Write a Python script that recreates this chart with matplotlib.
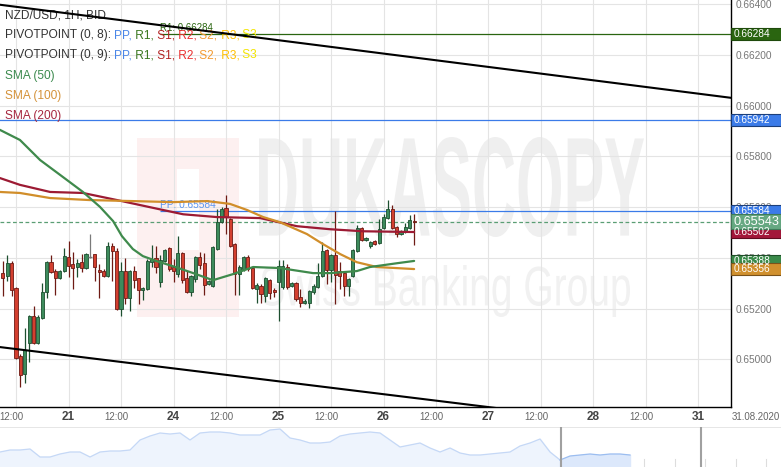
import numpy as np
import matplotlib
matplotlib.use("Agg")
import matplotlib.pyplot as plt
import matplotlib.transforms as mtransforms
from matplotlib.patches import Rectangle, PathPatch
from matplotlib.textpath import TextPath
from matplotlib.font_manager import FontProperties

plt.rcParams['font.family'] = ['Liberation Sans', 'DejaVu Sans']

W, H = 781, 467

# ----------------------------
# data (NZD/USD 1H bid), hour 0 = 21 Aug 00:00, weekend skipped
# ----------------------------
candle_hour = list(range(-15, 80))
opens = [.65340, .65328, .65379, .65281, .65013, .64942, .65064, .65170, .65064, .65162,
         .65265, .65383, .65348, .65320, .65348, .65403, .65375, .65364, .65383, .65360,
         .65403, .65415, .65352, .65348, .65328, .65446, .65427, .65198, .65348, .65241,
         .65348, .65320, .65273, .65277, .65383, .65399, .65304, .65387, .65438, .65364,
         .65336, .65419, .65320, .65265, .65316, .65403, .65379, .65296, .65289, .65435,
         .65541, .65596, .65553, .65454, .65336, .65356, .65403, .65360, .65277, .65289,
         .65249, .65312, .65273, .65304, .65285, .65364, .65289, .65300, .65245, .65222,
         .65222, .65265, .65285, .65328, .65431, .65352, .65411, .65348, .65340, .65289,
         .65328, .65427, .65517, .65470, .65446, .65466, .65458, .65517, .65557, .65592,
         .65521, .65494, .65501, .65517, .65545]
highs = [.65387, .65411, .65387, .65285, .65021, .65123, .65174, .65210, .65174, .65300,
         .65387, .65411, .65356, .65352, .65438, .65466, .65423, .65395, .65415, .65419,
         .65494, .65415, .65375, .65356, .65462, .65458, .65438, .65383, .65399, .65352,
         .65367, .65320, .65285, .65395, .65450, .65446, .65411, .65435, .65442, .65395,
         .65486, .65423, .65348, .65332, .65407, .65423, .65419, .65312, .65446, .65592,
         .65600, .65647, .65557, .65458, .65371, .65407, .65411, .65364, .65300, .65296,
         .65324, .65316, .65281, .65391, .65391, .65375, .65304, .65304, .65277, .65237,
         .65273, .65296, .65379, .65462, .65435, .65415, .65584, .65383, .65348, .65320,
         .65435, .65529, .65521, .65482, .65466, .65470, .65553, .65572, .65628, .65608,
         .65525, .65509, .65537, .65568, .65572]
lows = [.65249, .65308, .65249, .65001, .64891, .64906, .64989, .65060, .65060, .65159,
        .65241, .65340, .65253, .65316, .65344, .65324, .65277, .65324, .65344, .65356,
        .65399, .65308, .65241, .65324, .65324, .65308, .65194, .65170, .65218, .65190,
        .65281, .65218, .65233, .65273, .65364, .65340, .65285, .65383, .65348, .65304,
        .65324, .65300, .65261, .65249, .65304, .65356, .65253, .65293, .65285, .65431,
        .65537, .65494, .65442, .65253, .65253, .65348, .65348, .65277, .65222, .65222,
        .65225, .65237, .65245, .65151, .65277, .65277, .65285, .65229, .65206, .65218,
        .65202, .65257, .65281, .65324, .65296, .65304, .65218, .65277, .65249, .65249,
        .65324, .65423, .65466, .65466, .65438, .65450, .65454, .65513, .65553, .65513,
        .65482, .65490, .65498, .65513, .65450]
closes = [.65320, .65379, .65273, .65005, .64938, .65036, .65170, .65064, .65166, .65265,
          .65383, .65344, .65320, .65348, .65407, .65367, .65360, .65379, .65360, .65415,
          .65403, .65364, .65344, .65328, .65446, .65427, .65198, .65348, .65241, .65348,
          .65312, .65273, .65281, .65387, .65395, .65364, .65391, .65431, .65356, .65348,
          .65419, .65312, .65265, .65328, .65403, .65371, .65293, .65308, .65442, .65541,
          .65592, .65561, .65446, .65336, .65364, .65403, .65356, .65281, .65293, .65257,
          .65320, .65261, .65265, .65367, .65367, .65285, .65300, .65237, .65222, .65229,
          .65269, .65289, .65328, .65427, .65352, .65411, .65332, .65328, .65289, .65316,
          .65431, .65517, .65470, .65478, .65462, .65454, .65513, .65561, .65592, .65517,
          .65494, .65505, .65521, .65549, .65543]

sma50_h = [-15.7, -11.1, -6.5, -1.9, 3.3, 7.2, 10.2, 12.2, 14.7, 17.0, 20.2, 23.9,
           28.5, 33.0, 37.6, 42.2, 48.3, 55.9, 59.8, 65.9, 68.9, 75.1, 79]
sma50_p = [.65905, .65865, .65786, .65727, .65660, .65601, .65545, .65486, .65435, .65407,
           .65387, .65367, .65340, .65312, .65336, .65364, .65360, .65340, .65340, .65348,
           .65364, .65379, .65388]
sma100_h = [-15.7, -11.1, -4.2, 4.9, 14.7, 23.9, 31.7, 36.9, 40.8, 44.5, 48.3, 54.5,
            58.2, 62.1, 65.9, 70.5, 79]
sma100_p = [.65660, .65656, .65636, .65628, .65624, .65620, .65624, .65613, .65589, .65561,
            .65541, .65494, .65454, .65415, .65383, .65364, .65356]
sma200_h = [-15.7, -11.1, -4.2, 3.3, 11.1, 18.6, 26.2, 33.9, 43.8, 52.2, 59.8, 67.3, 79]
sma200_p = [.65715, .65688, .65660, .65656, .65628, .65600, .65572, .65561, .65557, .65525,
            .65513, .65505, .65502]

# channel lines (hour, price) end points
chan_top_h, chan_top_p = [-16, 152], [0.66399, 0.66030]
chan_bot_h, chan_bot_p = [-16, 152], [0.65049, 0.64693]

pivot_start = 21
r1_level = 0.66284
pp_level = 0.65584
prev_level = 0.65942
last_price = 0.65543
sma_last = {"sma200": 0.65502, "sma50": 0.65388, "sma100": 0.65356}

price_ticks = [0.650, 0.652, 0.654, 0.656, 0.658, 0.660, 0.662, 0.664]
grid_hours = [-12, 0, 12, 24, 36, 48, 60, 72, 84, 96, 108, 120, 132, 144]
grid_labels = ["12:00", "21", "12:00", "24", "12:00", "25", "12:00", "26",
               "12:00", "27", "12:00", "28", "12:00", "31"]

# navigator (overview) heights, read every 10 px
nav_values = [15, 17, 17, 18, 10, 10, 13, 15, 15, 10, 15, 16, 16, 17, 27, 31, 34, 33, 34, 27,
              34, 35, 35, 34, 32, 32, 32, 37, 38, 29, 27, 24, 24, 25, 31, 33, 34, 35, 34, 27,
              20, 22, 24, 19, 15, 19, 14, 12, 12, 13, 14, 15, 21, 24, 28, 15, 7, 11, 12, 13,
              12, 13, 13, 12]

# ----------------------------
# figure
# ----------------------------
fig = plt.figure(figsize=(W / 100, H / 100), dpi=100)
fig.patch.set_facecolor("white")
ax = fig.add_axes([0, 60 / H, 731 / W, 407 / H])
ax.set_facecolor("none")
ax.set_xlim(-15.66, 151.43)
ax.set_ylim(0.64812, 0.66417)
ax.set_axisbelow(True)

ax.set_xticks(grid_hours)
ax.set_xticklabels([])
ax.tick_params(axis="x", length=0)
ax.yaxis.tick_right()
ax.set_yticks(price_ticks)
ax.set_yticklabels([f"{v:.5f}" for v in price_ticks])
ax.tick_params(axis="y", length=0, pad=3.6, labelsize=7.3, labelcolor="#777777")
ax.grid(True, color="#e4e4e4", linewidth=0.8)
for s in ["left", "top"]:
    ax.spines[s].set_visible(False)
for s in ["right", "bottom"]:
    ax.spines[s].set_color("black")
    ax.spines[s].set_linewidth(1.0)


def px_box(x0, y0, x1, y1):
    # pixel box (top-left origin) -> figure fraction rect
    return (x0 / W, 1 - y1 / H), (x1 - x0) / W, (y1 - y0) / H


# watermark
xy, w, h = px_box(137, 138, 239, 317)
ax.add_patch(Rectangle(xy, w, h, transform=fig.transFigure, facecolor="#fdf0f0",
                       edgecolor="none", zorder=0.2))
xy, w, h = px_box(177, 169, 199, 250)
ax.add_patch(Rectangle(xy, w, h, transform=fig.transFigure, facecolor="white",
                       edgecolor="none", zorder=0.25))


def stretched_text(s, box, color, weight):
    x0, y0, x1, y1 = box
    tp = TextPath((0, 0), s, size=100, prop=FontProperties(family="Liberation Sans", weight=weight))
    bb = tp.get_extents()
    tr = (mtransforms.Affine2D().translate(-bb.x0, -bb.y0)
          .scale((x1 - x0) / bb.width / W, (y1 - y0) / bb.height / H)
          .translate(x0 / W, 1 - y1 / H)) + fig.transFigure
    ax.add_patch(PathPatch(tp, transform=tr, facecolor=color, edgecolor="none", zorder=0.2))


stretched_text("DUKASCOPY", (259, 137, 644, 237), "#efefef", "bold")
stretched_text("Swiss Banking Group", (261, 265, 630, 317), "#f1f1f1", "normal")

# levels
ax.axhline(prev_level, color="#3b7be8", linewidth=0.9, zorder=2)
ax.hlines(r1_level, pivot_start, 151.43, color="#2a6510", linewidth=0.9, zorder=2)
ax.hlines(pp_level, pivot_start, 151.43, color="#3b7be8", linewidth=0.9, zorder=2)
ax.axhline(last_price, color="#5a9e74", linewidth=0.9, linestyle=(0, (3, 2)), zorder=2)
ax.text(pivot_start, r1_level + 0.00003, f"R1: {r1_level:.5f}", color="#2a6510",
        fontsize=7, va="bottom", ha="left", zorder=2)
ax.text(pivot_start, pp_level + 0.00003, f"PP: {pp_level:.5f}", color="#5b95f0",
        fontsize=7.3, va="bottom", ha="left", zorder=2)

# candles
for hr, o, hi, lo, c in zip(candle_hour, opens, highs, lows, closes):
    if c > o:
        body, edge = "#3d8b5c", "#1d4f2f"
    elif c < o:
        body, edge = "#d33f2f", "#6e1a14"
    else:
        body, edge = "#8a8a8a", "#7a7a7a"
    ax.vlines(hr, lo, hi, color=edge, linewidth=0.9, zorder=3)
    if c == o:
        ax.hlines(o, hr - 0.45, hr + 0.45, color=edge, linewidth=1.0, zorder=4)
    else:
        ax.bar(hr, max(abs(c - o), 0.00003), width=0.72, bottom=min(o, c), color=body,
               edgecolor=edge, linewidth=0.6, zorder=4)

# moving averages
ax.plot(sma200_h, sma200_p, color="#9c1a33", linewidth=1.6, zorder=5, solid_capstyle="round")
ax.plot(sma100_h, sma100_p, color="#d18e2a", linewidth=1.6, zorder=5, solid_capstyle="round")
ax.plot(sma50_h, sma50_p, color="#3f8a4c", linewidth=1.6, zorder=5, solid_capstyle="round")

# channel
ax.plot(chan_top_h, chan_top_p, color="black", linewidth=1.5, zorder=7)
ax.plot(chan_bot_h, chan_bot_p, color="black", linewidth=1.5, zorder=7)

# x labels
xlab_tr = mtransforms.blended_transform_factory(ax.transData, ax.transAxes)
for hr, lab in zip(grid_hours, grid_labels):
    if lab == "12:00":
        ax.text(hr - 1.15, -0.025, lab, transform=xlab_tr, ha="center", va="center",
                fontsize=7, color="#666666", clip_on=False)
    else:
        ax.text(hr, -0.025, lab, transform=xlab_tr, ha="center", va="center",
                fontsize=8.5, fontweight="bold", color="#444444", clip_on=False)
ax.text(157, -0.025, "31.08.2020", transform=xlab_tr, ha="center", va="center",
        fontsize=7, color="#666666", clip_on=False)

# legend (top-left)
renderer = fig.canvas.get_renderer()


def text_run(x, y, pieces, size=8.6):
    for s, col in pieces:
        t = ax.text(x / W, 1 - y / H, s, transform=fig.transFigure, color=col,
                    fontsize=size, va="center", ha="left", zorder=6, clip_on=False)
        x += t.get_window_extent(renderer).width


piv_cols = [("PP,", "#4a86e8"), (" R1,", "#38761d"), (" S1,", "#b22222"), (" R2,", "#ea3030"),
            (" S2,", "#f39a30"), (" R3,", "#ffc000"), (" S3", "#f2e400")]
text_run(5, 15, [("NZD/USD, 1H, BID", "#333333")])
text_run(5, 35, [("PIVOTPOINT (0, 8): ", "#333333")] + piv_cols)
text_run(5, 55, [("PIVOTPOINT (0, 9): ", "#333333")] + piv_cols)
text_run(5, 76, [("SMA (50)", "#3c8a4e")])
text_run(5, 96, [("SMA (100)", "#d4923a")])
text_run(5, 116, [("SMA (200)", "#a6263e")])

# price boxes at the right axis
fig.canvas.draw()
boxes = [(r1_level, "#2a6510", "#1f4a0c", 7.3, 12),
         (prev_level, "#3b7be8", "#1c3f7a", 7.3, 12),
         (pp_level, "#3b7be8", "#1c3f7a", 7.3, 12),
         (sma_last["sma200"], "#a3173a", "#5e0c20", 7.3, 12),
         (sma_last["sma50"], "#3a8a4a", "#1f5029", 7.3, 12),
         (sma_last["sma100"], "#d0902e", "#7a521a", 7.3, 12),
         (last_price, "#66a882", "#3f7a58", 9.2, 15)]
for val, fc, ec, fs, bh in boxes:
    ypix = H - ax.transData.transform((0, val))[1]
    xy, w, h = px_box(731, ypix - bh / 2, 781, ypix + bh / 2)
    fig.add_artist(Rectangle(xy, w, h, transform=fig.transFigure, facecolor=fc,
                             edgecolor=ec, linewidth=0.8, zorder=8))
    fig.text(734 / W, 1 - ypix / H, f"{val:.5f}", color="white", fontsize=fs,
             va="center", ha="left", zorder=9)

# navigator
nav = fig.add_axes([0, 0, 1, 40 / H])
nav.set_xlim(0, W)
nav.set_ylim(0, 40)
nav.axis("off")
nav_x = np.linspace(0, 630, len(nav_values))
nav_v = np.array(nav_values, dtype=float)
left = nav_x <= 561
right = nav_x >= 560
nav.fill_between(nav_x[left], 0, nav_v[left], color="#eef4fd", zorder=1)
nav.plot(nav_x[left], nav_v[left], color="#c5d8f6", linewidth=0.9, zorder=2)
nav.fill_between(nav_x[right], 0, nav_v[right], color="#dce8fb", zorder=1)
nav.plot(nav_x[right], nav_v[right], color="#9bbdf0", linewidth=0.9, zorder=2)
for xt in np.arange(32, 781, 30.6):
    nav.plot([xt, xt], [0, 8], color="#dddddd", linewidth=0.8, zorder=0.5)
nav.axhline(40, color="#e2e2e2", linewidth=1.2)
for xh in [561, 701]:
    nav.plot([xh, xh], [0, 40], color="#a0a0a0", linewidth=1.5, zorder=3)

fig.savefig("out.png", dpi=100)
